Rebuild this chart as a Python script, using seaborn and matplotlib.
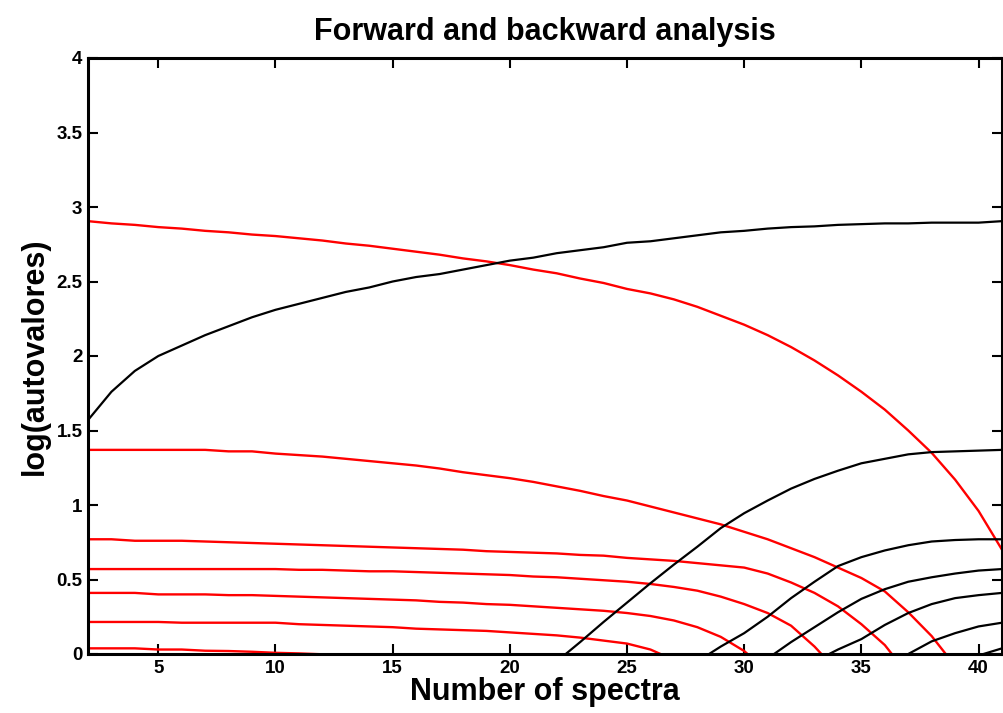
import numpy as np
import pandas as pd
import matplotlib
matplotlib.use("Agg")
import matplotlib.pyplot as plt
from matplotlib.ticker import FuncFormatter, MultipleLocator
import seaborn as sns

# ---------------- data ----------------
x_full = list(range(2, 42))

# forward analysis (black)
fwd1_x = list(range(2, 42))
fwd1 = [1.57, 1.76, 1.90, 2.00, 2.07, 2.14, 2.20, 2.26, 2.31, 2.35,
        2.39, 2.43, 2.46, 2.50, 2.53, 2.55, 2.58, 2.61, 2.64, 2.66,
        2.69, 2.71, 2.73, 2.76, 2.77, 2.79, 2.81, 2.83, 2.84, 2.855,
        2.865, 2.87, 2.88, 2.885, 2.89, 2.89, 2.895, 2.895, 2.895, 2.905]
fwd2_x = list(range(22, 42))
fwd2 = [-0.05, 0.08, 0.215, 0.345, 0.475, 0.60, 0.72, 0.845, 0.945, 1.03,
        1.11, 1.175, 1.23, 1.28, 1.31, 1.34, 1.355, 1.36, 1.365, 1.37]
fwd3_x = list(range(28, 42))
fwd3 = [-0.05, 0.05, 0.14, 0.25, 0.375, 0.485, 0.59, 0.65, 0.695, 0.73,
        0.755, 0.765, 0.77, 0.77]
fwd4_x = list(range(31, 42))
fwd4 = [-0.03, 0.08, 0.18, 0.28, 0.37, 0.435, 0.485, 0.515, 0.54, 0.56, 0.57]
fwd5_x = list(range(33, 42))
fwd5 = [-0.05, 0.03, 0.10, 0.195, 0.275, 0.335, 0.375, 0.395, 0.41]
fwd6_x = list(range(37, 42))
fwd6 = [0.0, 0.085, 0.14, 0.185, 0.21]
fwd7_x = [40, 41]
fwd7 = [-0.01, 0.038]

# backward analysis (red)
bwd1_x = list(range(2, 42))
bwd1 = [2.905, 2.89, 2.88, 2.865, 2.855, 2.84, 2.83, 2.815, 2.805, 2.79,
        2.775, 2.755, 2.74, 2.72, 2.70, 2.68, 2.655, 2.635, 2.61, 2.58,
        2.555, 2.52, 2.49, 2.45, 2.42, 2.38, 2.33, 2.27, 2.21, 2.14,
        2.06, 1.97, 1.87, 1.76, 1.64, 1.50, 1.35, 1.17, 0.96, 0.70]
bwd2_x = list(range(2, 40))
bwd2 = [1.37, 1.37, 1.37, 1.37, 1.37, 1.37, 1.36, 1.36, 1.345, 1.335,
        1.325, 1.31, 1.295, 1.28, 1.265, 1.245, 1.22, 1.20, 1.18, 1.155,
        1.125, 1.095, 1.06, 1.03, 0.99, 0.95, 0.91, 0.87, 0.82, 0.77,
        0.71, 0.65, 0.58, 0.51, 0.42, 0.28, 0.12, -0.08]
bwd3_x = list(range(2, 38))
bwd3 = [0.77, 0.77, 0.76, 0.76, 0.76, 0.755, 0.75, 0.745, 0.74, 0.735,
        0.73, 0.725, 0.72, 0.715, 0.71, 0.705, 0.70, 0.69, 0.685, 0.68,
        0.675, 0.665, 0.66, 0.645, 0.635, 0.625, 0.61, 0.595, 0.58, 0.54,
        0.48, 0.41, 0.32, 0.20, 0.06, -0.14]
bwd4_x = list(range(2, 35))
bwd4 = [0.57, 0.57, 0.57, 0.57, 0.57, 0.57, 0.57, 0.57, 0.57, 0.565,
        0.565, 0.56, 0.555, 0.555, 0.55, 0.545, 0.54, 0.535, 0.53, 0.52,
        0.515, 0.505, 0.495, 0.485, 0.47, 0.45, 0.425, 0.385, 0.335, 0.275,
        0.19, 0.05, -0.12]
bwd5_x = list(range(2, 32))
bwd5 = [0.41, 0.41, 0.41, 0.40, 0.40, 0.40, 0.395, 0.395, 0.39, 0.385,
        0.38, 0.375, 0.37, 0.365, 0.36, 0.35, 0.345, 0.335, 0.33, 0.32,
        0.31, 0.30, 0.29, 0.275, 0.255, 0.225, 0.18, 0.115, 0.02, -0.12]
bwd6_x = list(range(2, 28))
bwd6 = [0.215, 0.215, 0.215, 0.215, 0.21, 0.21, 0.21, 0.21, 0.21, 0.20,
        0.195, 0.19, 0.185, 0.18, 0.17, 0.165, 0.16, 0.155, 0.145, 0.135,
        0.125, 0.11, 0.09, 0.07, 0.03, -0.04]
bwd7_x = list(range(2, 14))
bwd7 = [0.038, 0.038, 0.038, 0.03, 0.03, 0.022, 0.02, 0.015, 0.008, 0.004,
        -0.002, -0.03]

x_ticks = [5, 10, 15, 20, 25, 30, 35, 40]
title_text = "Forward and backward analysis"
x_label = "Number of spectra"
y_label = "log(autovalores)"

# ---------------- plotting ----------------
sns.set_style("ticks")
plt.rcParams["font.family"] = ["Liberation Sans", "DejaVu Sans"]
plt.rcParams["font.weight"] = "bold"
plt.rcParams["text.color"] = "black"
plt.rcParams["axes.labelcolor"] = "black"

fig = plt.figure(figsize=(10.04, 7.13), dpi=100)
ax = fig.add_axes([88 / 1004, 1 - 654 / 713, (1002 - 88) / 1004, (654 - 58) / 713])

forward = [(fwd1_x, fwd1), (fwd2_x, fwd2), (fwd3_x, fwd3), (fwd4_x, fwd4),
           (fwd5_x, fwd5), (fwd6_x, fwd6), (fwd7_x, fwd7)]
backward = [(bwd1_x, bwd1), (bwd2_x, bwd2), (bwd3_x, bwd3), (bwd4_x, bwd4),
            (bwd5_x, bwd5), (bwd6_x, bwd6), (bwd7_x, bwd7)]

for xs, ys in backward:
    sns.lineplot(x=xs, y=ys, color="#ff0000", linewidth=1.7, ax=ax,
                 estimator=None, sort=False)
for xs, ys in forward:
    sns.lineplot(x=xs, y=ys, color="black", linewidth=1.6, ax=ax,
                 estimator=None, sort=False)

ax.set_xlim(2, 41)
ax.set_ylim(0, 4)
ax.set_xticks(x_ticks)
ax.yaxis.set_major_locator(MultipleLocator(0.5))
ax.yaxis.set_major_formatter(FuncFormatter(lambda v, p: f"{v:g}"))

for s in ax.spines.values():
    s.set_visible(True)
    s.set_linewidth(2.2)
    s.set_color("black")

ax.tick_params(direction="in", length=7, width=1.5, top=True, right=True,
               labelsize=13.5, pad=4, colors="black")
for lbl in ax.get_xticklabels() + ax.get_yticklabels():
    lbl.set_fontweight("bold")

ax.set_title(title_text, fontsize=22, fontweight="bold", pad=13, color="black")
ax.set_xlabel(x_label, fontsize=22, fontweight="bold", labelpad=0, color="black")
ax.set_ylabel(y_label, fontsize=22, fontweight="bold", labelpad=5, color="black")

fig.savefig("out.png", dpi=100)
